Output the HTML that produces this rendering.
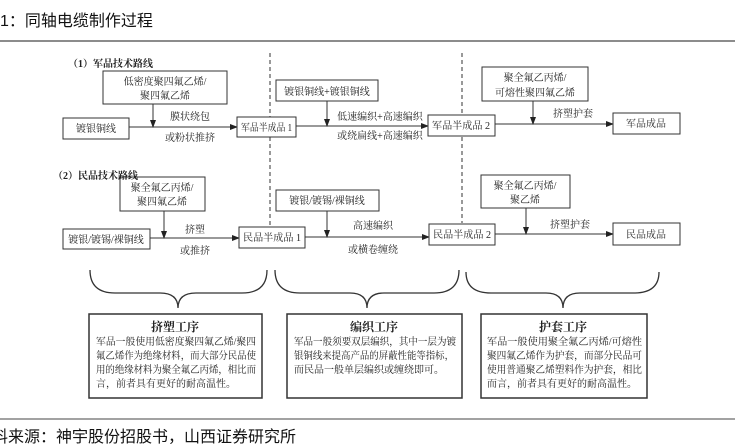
<!DOCTYPE html>
<html><head><meta charset="utf-8"><style>
html,body{margin:0;padding:0;background:#fff;}
svg{display:block;}
.s{font-family:"Liberation Serif","Noto Serif CJK SC",serif;fill:#222;}
.h{font-family:"Liberation Sans","Noto Sans CJK SC",sans-serif;fill:#111;}
</style></head><body>
<svg width="735" height="448" viewBox="0 0 735 448" xmlns="http://www.w3.org/2000/svg">
<defs><marker id="a" markerWidth="8" markerHeight="6" refX="7" refY="3" orient="auto" markerUnits="userSpaceOnUse"><path d="M0,0 L8,3 L0,6 Z" fill="#222"/></marker></defs>
<text class="h" x="0" y="26" font-size="16">1：同轴电缆制作过程</text>
<line x1="0" y1="41" x2="735" y2="41" stroke="#666" stroke-width="1.5"/>
<line x1="0" y1="419" x2="735" y2="419" stroke="#444" stroke-width="1"/>
<text class="h" x="-8" y="442" font-size="16">料来源：神宇股份招股书，山西证券研究所</text>

<g stroke="#333" stroke-width="1" fill="none">
<line x1="270" y1="53" x2="270" y2="228" stroke-dasharray="4,3"/>
<line x1="462" y1="53" x2="462" y2="223" stroke-dasharray="4,3"/>
<!-- arrows -->
<g marker-end="url(#a)">
<line x1="129" y1="127" x2="237" y2="127"/>
<line x1="153" y1="104" x2="153" y2="127"/>
<line x1="296" y1="126" x2="428" y2="126"/>
<line x1="327" y1="101" x2="327" y2="126"/>
<line x1="495" y1="124" x2="613" y2="124"/>
<line x1="533" y1="101" x2="533" y2="124"/>
<line x1="150" y1="238" x2="239" y2="238"/>
<line x1="164" y1="211" x2="164" y2="238"/>
<line x1="305" y1="237" x2="429" y2="237"/>
<line x1="327" y1="211" x2="327" y2="237"/>
<line x1="495" y1="234" x2="613" y2="234"/>
<line x1="526" y1="208" x2="526" y2="234"/>
</g>
<g fill="#fff">
<rect x="103" y="71" width="124" height="33"/>
<rect x="63" y="118" width="66" height="21"/>
<rect x="237" y="117" width="59" height="20"/>
<rect x="276" y="80" width="102" height="21"/>
<rect x="428" y="115" width="67" height="21"/>
<rect x="482" y="67" width="106" height="34"/>
<rect x="613" y="113" width="67" height="21"/>
<rect x="120" y="177" width="85" height="34"/>
<rect x="63" y="229" width="87" height="20"/>
<rect x="239" y="227" width="66" height="21"/>
<rect x="276" y="190" width="103" height="21"/>
<rect x="429" y="224" width="66" height="21"/>
<rect x="481" y="175" width="89" height="33"/>
<rect x="613" y="223" width="67" height="22"/>
</g>
<!-- braces -->
<path d="M90,270 Q90,293 115,293 L160,293 Q178,293 178,308 Q178,293 196,293 L242,293 Q267,293 267,270" stroke-width="1.3"/>
<path d="M275,270 Q275,293 300,293 L350,293 Q367,293 367,308 Q367,293 384,293 L434,293 Q459,293 459,270" stroke-width="1.3"/>
<path d="M466,272 Q466,293 491,293 L546,293 Q563,293 563,308 Q563,293 580,293 L634,293 Q659,293 659,272" stroke-width="1.3"/>
<rect x="89" y="314" width="173" height="84" stroke-width="1.5"/>
<rect x="287" y="314" width="175" height="84" stroke-width="1.5"/>
<rect x="481" y="314" width="166" height="84" stroke-width="1.5"/>
</g>

<g class="s" font-size="10">
<text x="68" y="67" font-weight="bold" font-size="10">（1）军品技术路线</text>
<text x="165" y="85" text-anchor="middle">低密度聚四氟乙烯/</text>
<text x="165" y="99" text-anchor="middle">聚四氟乙烯</text>
<text x="96" y="132" text-anchor="middle">镀银铜线</text>
<text x="190" y="120" text-anchor="middle">膜状绕包</text>
<text x="190" y="141" text-anchor="middle">或粉状推挤</text>
<text x="241" y="131" textLength="51" lengthAdjust="spacingAndGlyphs">军品半成品 1</text>
<text x="327" y="95" text-anchor="middle">镀银铜线+镀银铜线</text>
<text x="380" y="120" text-anchor="middle">低速编织+高速编织</text>
<text x="380" y="139" text-anchor="middle">或绕扁线+高速编织</text>
<text x="432" y="129" textLength="58" lengthAdjust="spacingAndGlyphs">军品半成品 2</text>
<text x="535" y="81" text-anchor="middle">聚全氟乙丙烯/</text>
<text x="535" y="96" text-anchor="middle">可熔性聚四氟乙烯</text>
<text x="573" y="117" text-anchor="middle">挤塑护套</text>
<text x="646" y="127" text-anchor="middle">军品成品</text>

<text x="53" y="179" font-weight="bold">（2）民品技术路线</text>
<text x="162" y="191" text-anchor="middle">聚全氟乙丙烯/</text>
<text x="162" y="205" text-anchor="middle">聚四氟乙烯</text>
<text x="106" y="243" text-anchor="middle">镀银/镀锡/裸铜线</text>
<text x="195" y="233" text-anchor="middle">挤塑</text>
<text x="195" y="254" text-anchor="middle">或推挤</text>
<text x="243" y="241" textLength="58" lengthAdjust="spacingAndGlyphs">民品半成品 1</text>
<text x="327" y="204" text-anchor="middle">镀银/镀锡/裸铜线</text>
<text x="373" y="229" text-anchor="middle">高速编织</text>
<text x="373" y="253" text-anchor="middle">或横卷缠绕</text>
<text x="433" y="238" textLength="58" lengthAdjust="spacingAndGlyphs">民品半成品 2</text>
<text x="525" y="189" text-anchor="middle">聚全氟乙丙烯/</text>
<text x="525" y="203" text-anchor="middle">聚乙烯</text>
<text x="570" y="228" text-anchor="middle">挤塑护套</text>
<text x="646" y="238" text-anchor="middle">民品成品</text>
</g>

<g class="s" font-size="10">
<text x="175" y="331" text-anchor="middle" font-weight="bold" font-size="12">挤塑工序</text>
<text x="96" y="345" textLength="160" lengthAdjust="spacingAndGlyphs">军品一般使用低密度聚四氟乙烯/聚四</text>
<text x="96" y="359" textLength="160" lengthAdjust="spacingAndGlyphs">氟乙烯作为绝缘材料，而大部分民品使</text>
<text x="96" y="373" textLength="160" lengthAdjust="spacingAndGlyphs">用的绝缘材料为聚全氟乙丙烯，相比而</text>
<text x="96" y="387">言，前者具有更好的耐高温性。</text>

<text x="374" y="331" text-anchor="middle" font-weight="bold" font-size="12">编织工序</text>
<text x="294" y="345" textLength="162" lengthAdjust="spacingAndGlyphs">军品一般须要双层编织，其中一层为镀</text>
<text x="294" y="359" textLength="160" lengthAdjust="spacingAndGlyphs">银铜线来提高产品的屏蔽性能等指标，</text>
<text x="294" y="373">而民品一般单层编织或缠绕即可。</text>

<text x="563" y="331" text-anchor="middle" font-weight="bold" font-size="12">护套工序</text>
<text x="487" y="345" textLength="155" lengthAdjust="spacingAndGlyphs">军品一般使用聚全氟乙丙烯/可熔性</text>
<text x="487" y="359" textLength="155" lengthAdjust="spacingAndGlyphs">聚四氟乙烯作为护套，而部分民品可</text>
<text x="487" y="373" textLength="155" lengthAdjust="spacingAndGlyphs">使用普通聚乙烯塑料作为护套，相比</text>
<text x="487" y="387">而言，前者具有更好的耐高温性。</text>
</g>
</svg>
</body></html>
